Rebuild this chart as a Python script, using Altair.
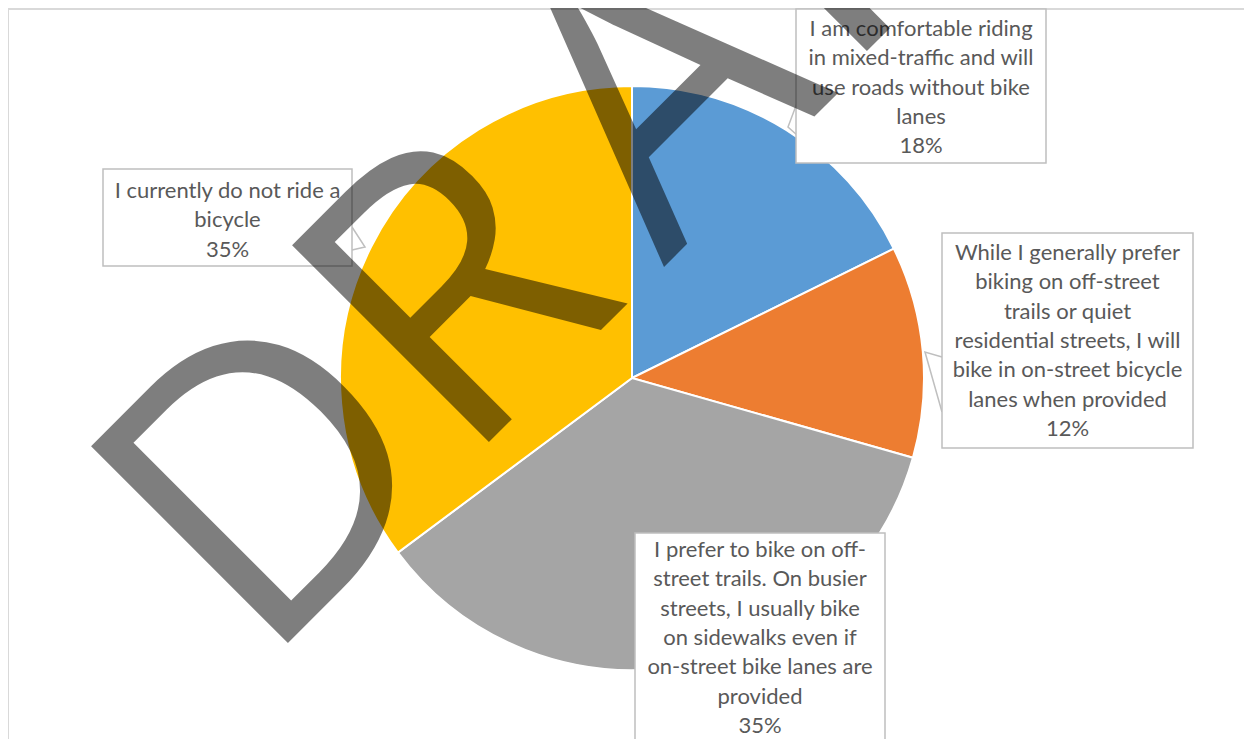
import altair as alt
import pandas as pd

# ---- data ----
categories = [
    "Comfortable in mixed traffic",
    "Prefer trails, will use bike lanes",
    "Prefer trails, use sidewalks",
    "Do not ride",
]
shares = [17.7, 11.7, 35.4, 35.2]
pct_labels = ["18%", "12%", "35%", "35%"]
label_lines = [
    ["I am comfortable riding", "in mixed-traffic and will", "use roads without bike", "lanes"],
    ["While I generally prefer", "biking on off-street", "trails or quiet", "residential streets, I will",
     "bike in on-street bicycle", "lanes when provided"],
    ["I prefer to bike on off-", "street trails. On busier", "streets, I usually bike", "on sidewalks even if",
     "on-street bike lanes are", "provided"],
    ["I currently do not ride a", "bicycle"],
]
colors = ["#5B9BD5", "#ED7D31", "#A5A5A5", "#FFC000"]
watermark_letters = ["D", "R", "A", "F", "T"]

# ---- layout (pixel frame of the chart) ----
W, H = 1236, 731
box_x0 = [788, 934, 627, 95]
box_x1 = [1038, 1185, 877, 344]
box_y0 = [1, 225, 525, 161]
box_y1 = [155, 440, 760, 258]
text_y0 = [21, 245, 542, 183]
line_h = 29.3
ptr_x = [[789, 780, 789], [934, 917, 934], None, [344, 357, 344]]
ptr_y = [[95, 119, 127], [349, 344, 404], None, [219, 239, 242]]
wm_x = [253, 454, 656, 832, 993]
wm_y = [662, 461, 259, 70, -78]

xs = alt.Scale(domain=[0, W], range=[0, W])
ys = alt.Scale(domain=[0, H], range=[0, H])

pie_df = pd.DataFrame({"cat": categories, "share": shares, "idx": range(len(categories))})
box_df = pd.DataFrame({"x0": box_x0, "x1": box_x1, "y0": box_y0, "y1": box_y1})

rows = []
for i, lines in enumerate(label_lines):
    all_lines = lines + [pct_labels[i]]
    cx = (box_x0[i] + box_x1[i]) / 2
    for k, t in enumerate(all_lines):
        rows.append({"t": t, "x": cx, "y": text_y0[i] + k * line_h})
text_df = pd.DataFrame(rows)

prow = []
for i in range(len(categories)):
    if ptr_x[i] is None:
        continue
    for k in range(3):
        prow.append({"p": i, "k": k, "x": ptr_x[i][k], "y": ptr_y[i][k]})
ptr_df = pd.DataFrame(prow)

wm_df = pd.DataFrame({"t": watermark_letters, "x": wm_x, "y": wm_y})

pie = alt.Chart(pie_df).mark_arc(outerRadius=292, stroke="white", strokeWidth=2).encode(
    theta=alt.Theta("share:Q", stack=True),
    color=alt.Color("cat:N", scale=alt.Scale(domain=categories, range=colors), legend=None),
    order=alt.Order("idx:Q"),
    x=alt.value(624),
    y=alt.value(370),
)

ptrs = alt.Chart(ptr_df).mark_line(fill="white", stroke="#BFBFBF", strokeWidth=1.5).encode(
    x=alt.X("x:Q", scale=xs, axis=None),
    y=alt.Y("y:Q", scale=ys, axis=None),
    detail="p:N",
    order="k:Q",
)

boxes = alt.Chart(box_df).mark_rect(fill="white", stroke="#BFBFBF", strokeWidth=1.5).encode(
    x=alt.X("x0:Q", scale=xs, axis=None),
    x2="x1:Q",
    y=alt.Y("y0:Q", scale=ys, axis=None),
    y2="y1:Q",
)

texts = alt.Chart(text_df).mark_text(
    font="Lato", fontSize=22, color="#595959", align="center", baseline="middle"
).encode(
    x=alt.X("x:Q", scale=xs, axis=None),
    y=alt.Y("y:Q", scale=ys, axis=None),
    text="t:N",
)

frame_df = pd.DataFrame({"a": [0]})
left_border = alt.Chart(frame_df).mark_rule(color="#D9D9D9", strokeWidth=2).encode(
    x=alt.value(0), y=alt.value(0), y2=alt.value(H)
)
top_border = alt.Chart(frame_df).mark_rule(color="#D9D9D9", strokeWidth=2).encode(
    x=alt.value(0), x2=alt.value(W), y=alt.value(1)
)

watermark = alt.Chart(wm_df).mark_text(
    angle=315, fontSize=390, font="Open Sans", color="black", opacity=0.5,
    align="left", baseline="alphabetic"
).encode(
    x=alt.X("x:Q", scale=xs, axis=None),
    y=alt.Y("y:Q", scale=ys, axis=None),
    text="t:N",
)

chart = alt.layer(left_border, top_border, pie, ptrs, boxes, texts, watermark).properties(
    width=W, height=H, padding=0, autosize=alt.AutoSizeParams(type="none")
).configure_view(stroke=None)

chart.save("out.html", embed_options={"renderer": "svg", "actions": False})
